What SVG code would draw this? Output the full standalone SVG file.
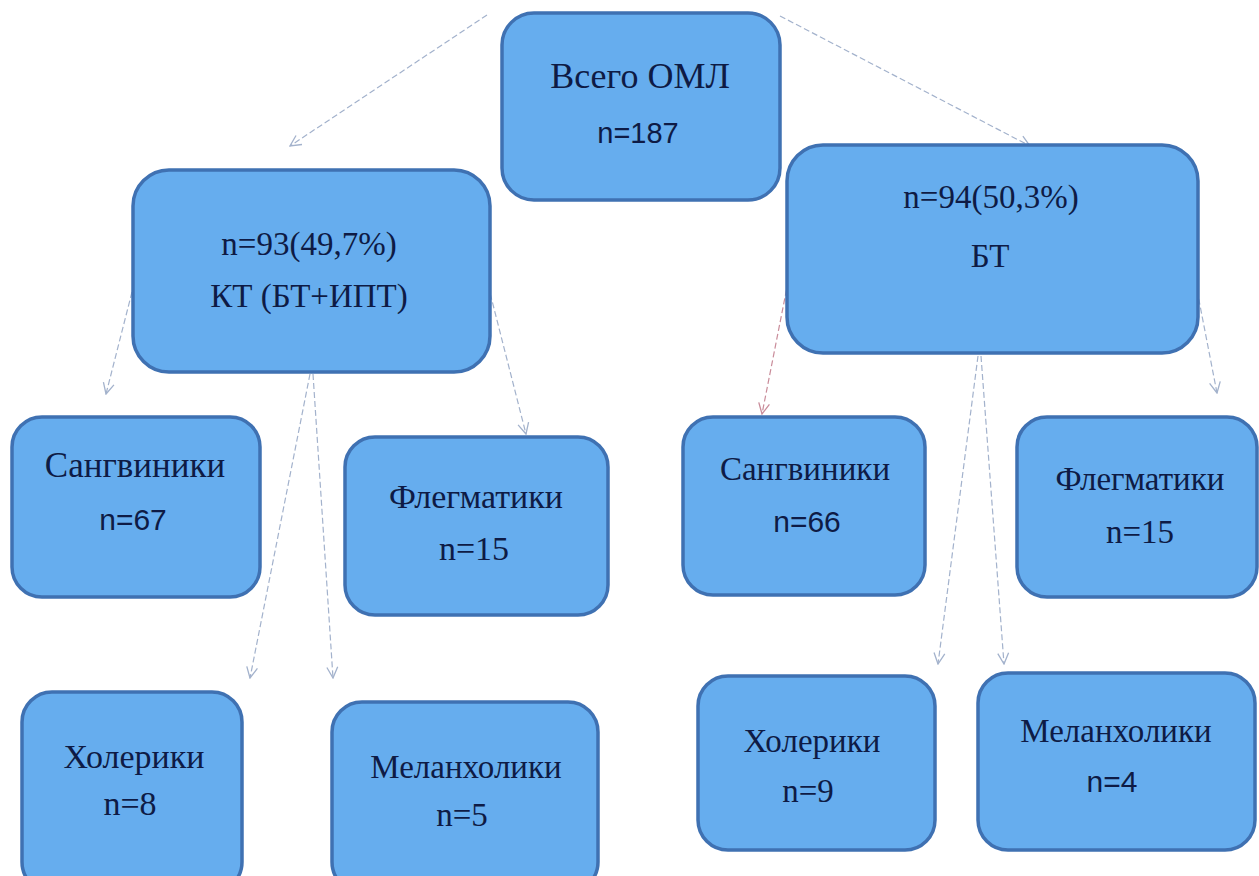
<svg xmlns="http://www.w3.org/2000/svg" width="1259" height="876" viewBox="0 0 1259 876">
  <defs>
    <style>
      .box { fill: #66adee; stroke: #3f71b2; stroke-width: 3.5; }
      .serif { font-family: "Liberation Serif", "Times New Roman", serif; fill: #0e1b45; text-anchor: middle; }
      .sans { font-family: "Liberation Sans", Arial, sans-serif; fill: #0e1b45; text-anchor: middle; }
      .conn { stroke: #a3b2cc; stroke-width: 1.2; fill: none; stroke-dasharray: 6 3; }
      .red { stroke: #c98c9a; }
    </style>
    <marker id="arr" viewBox="0 0 12 12" refX="11" refY="6" markerWidth="13" markerHeight="13" markerUnits="userSpaceOnUse" orient="auto">
      <path d="M1,1 L11,6 L1,11" fill="none" stroke="#a3b2cc" stroke-width="1.2"/>
    </marker>
    <marker id="arrRed" viewBox="0 0 12 12" refX="11" refY="6" markerWidth="13" markerHeight="13" markerUnits="userSpaceOnUse" orient="auto">
      <path d="M1,1 L11,6 L1,11" fill="none" stroke="#c98c9a" stroke-width="1.2"/>
    </marker>
  </defs>
  <rect width="1259" height="876" fill="#ffffff"/>

  <g id="connectors">
    <line class="conn" x1="487" y1="15" x2="290" y2="146" marker-end="url(#arr)"/>
    <line class="conn" x1="780" y1="16" x2="1030" y2="146" marker-end="url(#arr)"/>
    <line class="conn" x1="132" y1="292" x2="106" y2="394" marker-end="url(#arr)"/>
    <line class="conn" x1="488" y1="285" x2="526" y2="434" marker-end="url(#arr)"/>
    <line class="conn" x1="310" y1="374" x2="250" y2="678" marker-end="url(#arr)"/>
    <line class="conn" x1="313" y1="374" x2="333" y2="678" marker-end="url(#arr)"/>
    <line class="conn red" x1="790" y1="272" x2="762" y2="414" marker-end="url(#arrRed)"/>
    <line class="conn" x1="978" y1="356" x2="938" y2="664" marker-end="url(#arr)"/>
    <line class="conn" x1="981" y1="356" x2="1004" y2="664" marker-end="url(#arr)"/>
    <line class="conn" x1="1197" y1="290" x2="1217" y2="393" marker-end="url(#arr)"/>
  </g>

  <g id="node-total">
    <rect class="box" x="502" y="13" width="278" height="187" rx="32"/>
    <text class="serif" x="640" y="88" font-size="36">Всего ОМЛ</text>
    <text class="sans" x="638" y="143" font-size="29">n=187</text>
  </g>

  <g id="node-kt">
    <rect class="box" x="133" y="170" width="357" height="202" rx="36"/>
    <text class="serif" x="309" y="255" font-size="33">n=93(49,7%)</text>
    <text class="serif" x="309" y="307" font-size="33">КТ (БТ+ИПТ)</text>
  </g>

  <g id="node-bt">
    <rect class="box" x="787" y="145" width="411" height="208" rx="36"/>
    <text class="serif" x="991" y="208" font-size="33">n=94(50,3%)</text>
    <text class="serif" x="990" y="267" font-size="33">БТ</text>
  </g>

  <g id="node-kt-sang">
    <rect class="box" x="12" y="417" width="248" height="180" rx="30"/>
    <text class="serif" x="135" y="477" font-size="35">Сангвиники</text>
    <text class="sans" x="133" y="530" font-size="30">n=67</text>
  </g>

  <g id="node-kt-fleg">
    <rect class="box" x="345" y="437" width="263" height="178" rx="30"/>
    <text class="serif" x="476" y="508" font-size="34">Флегматики</text>
    <text class="serif" x="474" y="560" font-size="34">n=15</text>
  </g>

  <g id="node-kt-chol">
    <rect class="box" x="22" y="692" width="220" height="200" rx="30"/>
    <text class="serif" x="134" y="768" font-size="34">Холерики</text>
    <text class="serif" x="130" y="815" font-size="34">n=8</text>
  </g>

  <g id="node-kt-mel">
    <rect class="box" x="332" y="702" width="266" height="190" rx="30"/>
    <text class="serif" x="466" y="778" font-size="33">Меланхолики</text>
    <text class="serif" x="462" y="826" font-size="33">n=5</text>
  </g>

  <g id="node-bt-sang">
    <rect class="box" x="683" y="417" width="242" height="178" rx="30"/>
    <text class="serif" x="805" y="480" font-size="33">Сангвиники</text>
    <text class="sans" x="807" y="532" font-size="30">n=66</text>
  </g>

  <g id="node-bt-fleg">
    <rect class="box" x="1017" y="417" width="240" height="180" rx="30"/>
    <text class="serif" x="1140" y="490" font-size="33">Флегматики</text>
    <text class="serif" x="1140" y="543" font-size="33">n=15</text>
  </g>

  <g id="node-bt-chol">
    <rect class="box" x="698" y="676" width="237" height="174" rx="30"/>
    <text class="serif" x="812" y="752" font-size="33">Холерики</text>
    <text class="serif" x="808" y="802" font-size="33">n=9</text>
  </g>

  <g id="node-bt-mel">
    <rect class="box" x="978" y="673" width="277" height="177" rx="30"/>
    <text class="serif" x="1116" y="742" font-size="33">Меланхолики</text>
    <text class="sans" x="1112" y="792" font-size="30">n=4</text>
  </g>
</svg>
